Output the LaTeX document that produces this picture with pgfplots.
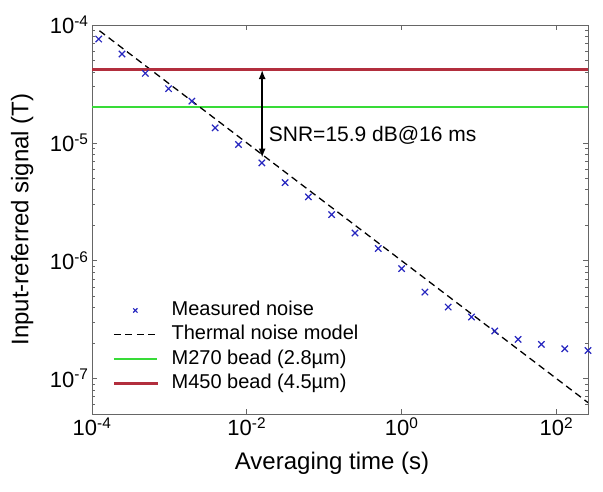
\documentclass[border=0pt]{standalone}
\usepackage{pgfplots}
\pgfplotsset{compat=1.18}
\usepackage{fontspec}
\setmainfont{Liberation Sans}
\usetikzlibrary{arrows.meta}
\definecolor{measblue}{rgb}{0.15,0.15,0.75}
\definecolor{beadgreen}{rgb}{0.22,0.86,0.22}
\definecolor{beadred}{HTML}{B22E3D}
\definecolor{axgray}{rgb}{0.40,0.40,0.40}
\pgfplotsset{
  linelegend/.style={legend image code/.code={\draw[##1] (0bp,0bp) -- (43bp,0bp);}},
  marklegend/.style={legend image code/.code={\draw[##1, mark size=3bp] plot coordinates {(21.5bp,0bp)};}},
  redlegend/.style={legend image code/.code={\fill[beadred] (0bp,-0.8bp) rectangle (43bp,0.8bp);}},
}
\begin{document}
\begin{tikzpicture}
\useasboundingbox (-92bp,-78bp) rectangle (511bp,414bp);
\begin{axis}[
  at={(0,0)}, anchor=south west,
  scale only axis, width=496bp, height=389bp,
  xmode=log, ymode=log,
  xmin=1e-4, xmax=256, ymin=5e-8, ymax=1e-4,
  xtick={1e-4,1e-2,1,1e2},
  xticklabels={10\textsuperscript{-4},10\textsuperscript{-2},10\textsuperscript{0},10\textsuperscript{2}},
  ytick={1e-7,1e-6,1e-5,1e-4},
  yticklabels={10\textsuperscript{-7},10\textsuperscript{-6},10\textsuperscript{-5},10\textsuperscript{-4}},
  minor xtick={},
  minor ytick={6e-8,7e-8,8e-8,9e-8,2e-7,3e-7,4e-7,5e-7,6e-7,7e-7,8e-7,9e-7,2e-6,3e-6,4e-6,5e-6,6e-6,7e-6,8e-6,9e-6,2e-5,3e-5,4e-5,5e-5,6e-5,7e-5,8e-5,9e-5},
  tick align=inside,
  major tick length=5bp, minor tick length=3bp,
  axis line style={draw=axgray, line width=0.8bp},
  every tick/.style={draw=axgray, line width=0.6bp},
  tick label style={font=\fontsize{22bp}{25bp}\selectfont},
  xlabel={Averaging time (s)},
  ylabel={Input-referred signal (T)},
  label style={font=\fontsize{24bp}{28bp}\selectfont},
  xlabel style={at={(axis description cs:0.484,-0.126)}, anchor=center},
  ylabel style={at={(axis description cs:-0.141,0.5)}, anchor=center},
  legend cell align=left,
  legend style={draw=none, fill=none, at={(axis description cs:0.036,0.05)}, anchor=south west,
    font=\fontsize{20bp}{23bp}\selectfont, row sep=6.3bp,
    nodes={text height=14bp, text depth=4bp, inner ysep=0pt},
    /tikz/every odd column/.append style={column sep=12bp}},
]
\addplot[forget plot, draw=beadgreen, line width=1.6bp] coordinates {(1e-4,2.02e-5) (256,2.02e-5)};
\addplot[marklegend, only marks, mark=x, mark size=4.5bp, color=measblue, line width=1.2bp] coordinates {
(1.220703e-4,7.6e-5) (2.441406e-4,5.68e-5) (4.882813e-4,3.89e-5) (9.765625e-4,2.88e-5)
(1.953125e-3,2.26e-5) (3.90625e-3,1.34e-5) (7.8125e-3,9.7e-6) (1.5625e-2,6.76e-6)
(3.125e-2,4.6e-6) (6.25e-2,3.48e-6) (0.125,2.46e-6) (0.25,1.72e-6) (0.5,1.27e-6)
(1,8.57e-7) (2,5.42e-7) (4,4.04e-7) (8,3.33e-7) (16,2.53e-7) (32,2.15e-7)
(64,1.95e-7) (128,1.79e-7) (256,1.73e-7)
};
\addlegendentry{Measured noise}
\addplot[linelegend, color=black, line width=1.3bp, dash pattern=on 7bp off 4.5bp] coordinates {(1.25e-4,8.94e-5) (256,6.25e-8)};
\addlegendentry{Thermal noise model}
\addlegendimage{linelegend, draw=beadgreen, line width=1.6bp}
\addlegendentry{M270 bead (2.8µm)}
\addlegendimage{redlegend}
\addlegendentry{M450 bead (4.5µm)}
% SNR arrow at 16 ms
\draw[black, line width=1.5bp, {Latex[length=9bp,width=7bp]}-{Latex[length=9bp,width=7bp]}] (axis cs:0.0158,4.15e-5) -- (axis cs:0.0158,7.5e-6);
% M450 level (4.2e-5 T), drawn last as a band
\addplot[forget plot, fill=beadred, draw=beadred, line width=0.4bp] coordinates {(1e-4,4.12e-5) (256,4.12e-5) (256,4.28e-5) (1e-4,4.28e-5)};
\node[anchor=west, inner sep=0pt, font=\fontsize{21bp}{24bp}\selectfont] at (axis cs:0.0192,1.16e-5) {SNR=15.9 dB@16 ms};
\end{axis}
\end{tikzpicture}
\end{document}
